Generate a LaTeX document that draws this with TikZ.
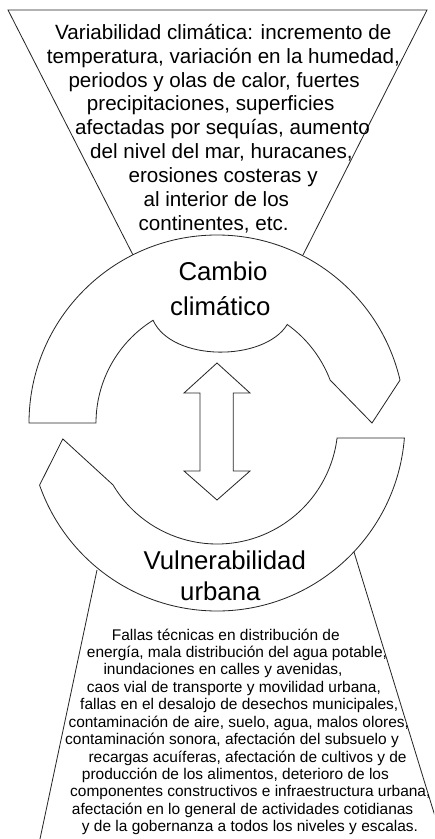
\documentclass[tikz,border=0pt]{standalone}
\usepackage{fontspec}
\setmainfont{Liberation Sans}
\usetikzlibrary{calc}
\begin{document}
\begin{tikzpicture}[x=0.03cm,y=-0.03cm,
 contorno/.style={draw=black!85,line width=0.7pt},
 banda/.style={contorno,fill=white},
 txtsup/.style={anchor=base west,inner sep=0pt,font=\fontsize{17.6}{20.4}\selectfont},
 txtinf/.style={anchor=base west,inner sep=0pt,font=\fontsize{13.2}{14.9}\selectfont},
 titulo/.style={anchor=base west,inner sep=0pt,font=\fontsize{22}{26}\selectfont}]
 \clip (0,0) rectangle (434,839);
 \coordinate (O) at (217,423);
 \def\Ro{188} \def\Ri{121}
 % embudos
 \draw[contorno] (133,255)--(8,10)--(427,10)--(303,255);
 \draw[contorno] (97,570)--(40,839);
 \draw[contorno] (354,552)--(442,839);
 % flecha circular superior
 \draw[banda] ($(O)+(180:\Ro)$) arc[start angle=180,end angle=346.8,radius=\Ro]
  --($(O)+(0:155)$)--($(O)+(339.2:\Ri)$)
  arc[start angle=339.2,end angle=305.5,radius=\Ri]
  .. controls (264,362) and (172,362) .. ($(O)+(238.1:\Ri)$)
  arc[start angle=238.1,end angle=180,radius=\Ri]--cycle;
 % flecha circular inferior
 \draw[banda] ($(O)+(4.6:\Ro)$) arc[start angle=4.6,end angle=160.7,radius=\Ro]
  --($(O)+(174.1:155)$)--($(O)+(149.2:\Ri)$)
  arc[start angle=149.2,end angle=7.1,radius=\Ri]--cycle;
 % flecha doble
 \draw[banda] (217,363)--(250,393)--(233.3,393)--(233.3,471)--(250,471)--(217,500)
  --(184,471)--(200,471)--(200,393)--(184,393)--cycle;
 % textos
 \node[txtsup] (s1) at (55,39.3) {Variabilidad climática: incremento de};
 \node[txtsup] (s2) at (46.7,63.1) {temperatura, variación en la humedad,};
 \node[txtsup] (s3) at (68.3,87) {periodos y olas de calor, fuertes};
 \node[txtsup] (s4) at (86.7,110.8) {precipitaciones, superficies};
 \node[txtsup] (s5) at (75,134.7) {afectadas por sequías, aumento};
 \node[txtsup] (s6) at (90,158.5) {del nivel del mar, huracanes,};
 \node[txtsup] (s7) at (128.3,182.3) {erosiones costeras y};
 \node[txtsup] (s8) at (143.3,206.2) {al interior de los};
 \node[txtsup] (s9) at (138.3,230) {continentes, etc.};
 \node[titulo] (cc1) at (178.3,280) {Cambio};
 \node[titulo] (cc2) at (170,315.7) {climático};
 \node[titulo] (vu1) at (143.3,569.3) {Vulnerabilidad};
 \node[titulo] (vu2) at (180,600) {urbana};
 \node[txtinf] (i1) at (111.7,640) {Fallas técnicas en distribución de};
 \node[txtinf] (i2) at (86.7,657.4) {energía, mala distribución del agua potable,};
 \node[txtinf] (i3) at (103.3,674.9) {inundaciones en calles y avenidas,};
 \node[txtinf] (i4) at (86.7,692.3) {caos vial de transporte y movilidad urbana,};
 \node[txtinf] (i5) at (80,709.7) {fallas en el desalojo de desechos municipales,};
 \node[txtinf] (i6) at (68.3,727.2) {contaminación de aire, suelo, agua, malos olores,};
 \node[txtinf] (i7) at (65,744.6) {contaminación sonora, afectación del subsuelo y};
 \node[txtinf] (i8) at (88.3,762) {recargas acuíferas, afectación de cultivos y de};
 \node[txtinf] (i9) at (81.7,779.4) {producción de los alimentos, deterioro de los};
 \node[txtinf] (i10) at (70,796.9) {componentes constructivos e infraestructura urbana,};
 \node[txtinf] (i11) at (71.7,814.3) {afectación en lo general de actividades cotidianas};
 \node[txtinf] (i12) at (81.7,831.7) {y de la gobernanza a todos los niveles y escalas.};
\end{tikzpicture}
\end{document}
